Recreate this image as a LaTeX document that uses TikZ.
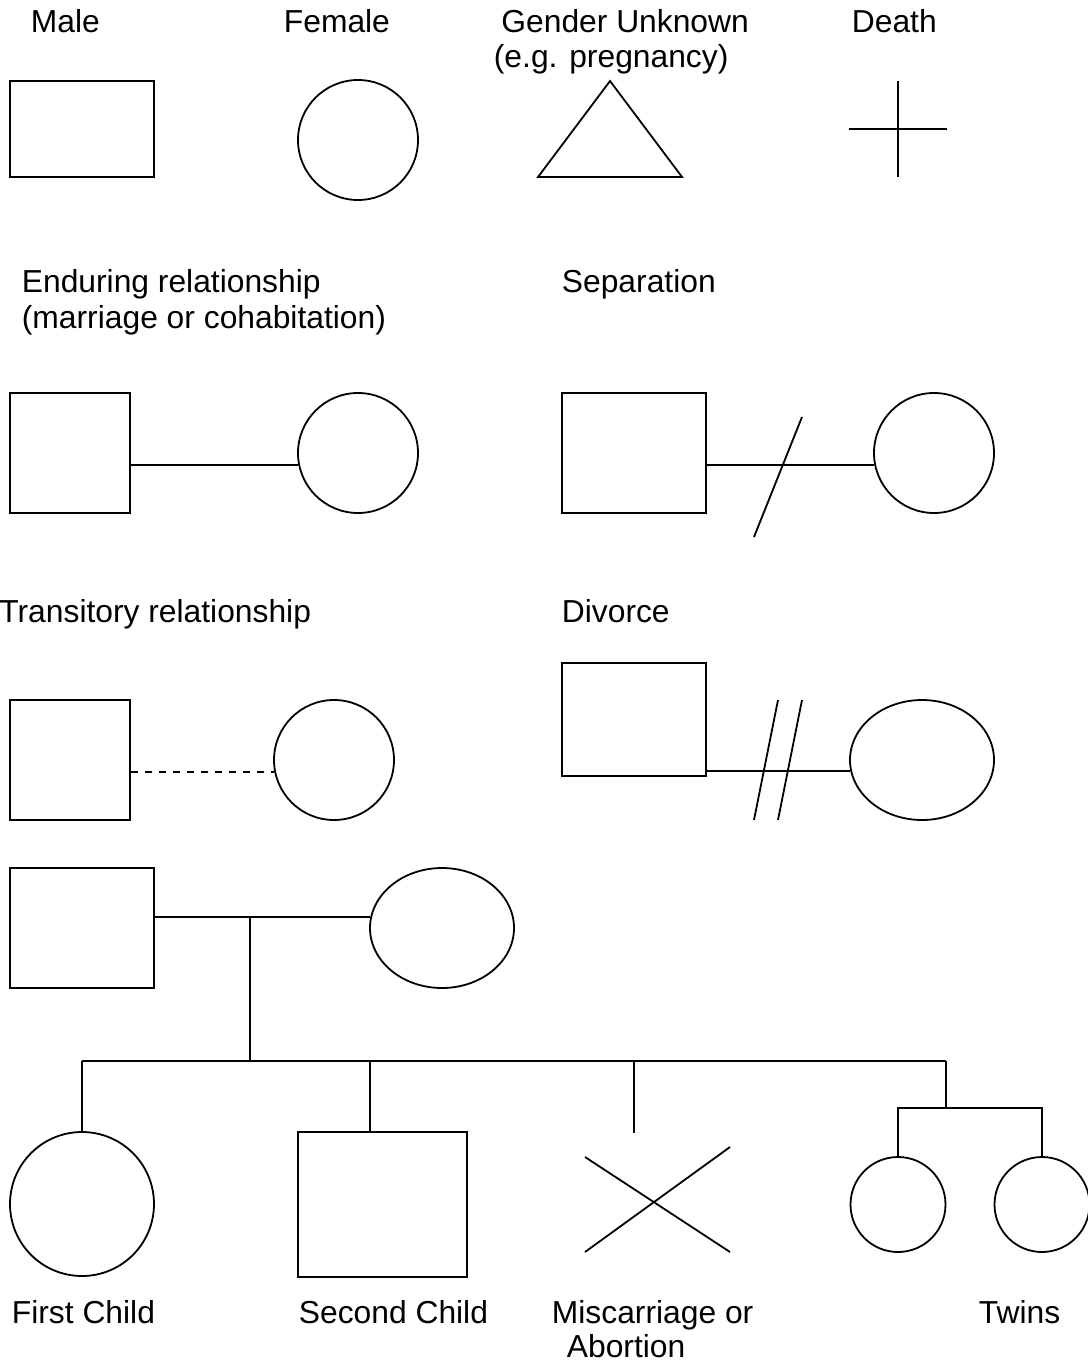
\documentclass[tikz,border=0pt]{standalone}
\usepackage{fontspec}
\setmainfont{Liberation Sans}
\usetikzlibrary{shapes.geometric}

\begin{document}
\begin{tikzpicture}[x=1pt, y=-1pt, line width=1.8pt,
  font=\fontsize{31.8}{37}\selectfont,
  lbl/.style={anchor=base west, inner sep=0pt},
  man/.style={draw, rectangle, inner sep=0pt},
  woman/.style={draw, circle, inner sep=0pt},
  wife/.style={draw, ellipse, inner sep=0pt, minimum width=144pt, minimum height=120pt}]

  \useasboundingbox[fill=white] (0,0) rectangle (1087,1362);

  \node[lbl] (la) at (30, 33) {Male};
  \node[lbl] (lb) at (283, 33) {Female};
  \node[lbl] (lc) at (500.5, 33) {Gender Unknown};
  \node[lbl] (ld) at (493, 68) {(e.g. pregnancy)};
  \node[lbl] (le) at (851, 33) {Death};
  \node[lbl] (lf) at (21, 292) {Enduring relationship};
  \node[lbl] (lg) at (21, 328) {(marriage or cohabitation)};
  \node[lbl] (lh) at (561, 292) {Separation};
  \node[lbl] (li) at (-1.5, 622) {Transitory relationship};
  \node[lbl] (lj) at (561, 622) {Divorce};
  \node[lbl] (lk) at (11, 1323) {First Child};
  \node[lbl] (ll) at (298, 1323) {Second Child};
  \node[lbl] (lm) at (551, 1323) {Miscarriage or};
  \node[lbl] (ln) at (566, 1357) {Abortion};
  \node[lbl] (lo) at (978, 1323) {Twins};

  \node[man, minimum width=144pt, minimum height=96pt] (a) at (82, 129) {};
  \node[woman, minimum size=120pt] (b) at (358, 140) {};
  \draw[line join=miter] (538, 177) -- (610, 81) -- (682, 177) -- cycle;
  \draw (898, 81) -- (898, 177) (849, 129) -- (947, 129);

  \node[man, minimum size=120pt] (c) at (70, 453) {};
  \node[woman, minimum size=120pt] (d) at (358, 453) {};
  \node[man, minimum width=144pt, minimum height=120pt] (e) at (634, 453) {};
  \node[woman, minimum size=120pt] (f) at (934, 453) {};

  \node[man, minimum size=120pt] (g) at (70, 760) {};
  \node[woman, minimum size=120pt] (h) at (334, 760) {};
  \node[man, minimum width=144pt, minimum height=113pt] (i) at (634, 719.5) {};
  \node[wife] (j) at (922, 760) {};

  \node[man, minimum width=144pt, minimum height=120pt] (k) at (82, 928) {};
  \node[wife] (l) at (442, 928) {};
  \node[woman, minimum size=144pt] (m) at (82, 1204) {};
  \node[man, minimum width=169pt, minimum height=145pt] (n) at (382.5, 1204.5) {};
  \node[woman, minimum size=95pt] (o) at (898, 1204.5) {};
  \node[woman, minimum size=95pt] (p) at (1042, 1204.5) {};

  \coordinate (q) at (250, 917);
  \coordinate (r) at (250, 1061);
  \coordinate (s) at (634, 1133);
  \coordinate (t) at (946, 1108);

  \draw (c.east |- d.191.5) -- (d.191.5);
  \draw (e.east |- f.191.5) -- (f.191.5);
  \draw (802, 417) -- (754, 537);
  \draw[dash pattern=on 7pt off 7pt] (g.east |- h.191.5) -- (h.191.5);
  \draw (i.east |- j.189.7) -- (j.189.7);
  \draw (778, 700) -- (754, 820) (802, 700) -- (778, 820);

  \draw (k.east |- l.171) -- (l.171);
  \draw (q) -- (r);
  \draw (m.north |- r) -- (t |- r);
  \draw (m.north |- r) -- (m.north);
  \draw ([xshift=-12.5pt]n.north |- r) -- ([xshift=-12.5pt]n.north);
  \draw (s |- r) -- (s);
  \draw (585, 1157) -- (730, 1252) (585, 1252) -- (730, 1147);
  \draw (t |- r) -- (t);
  \draw (o.north) |- (t) -| (p.north);

\end{tikzpicture}
\end{document}
